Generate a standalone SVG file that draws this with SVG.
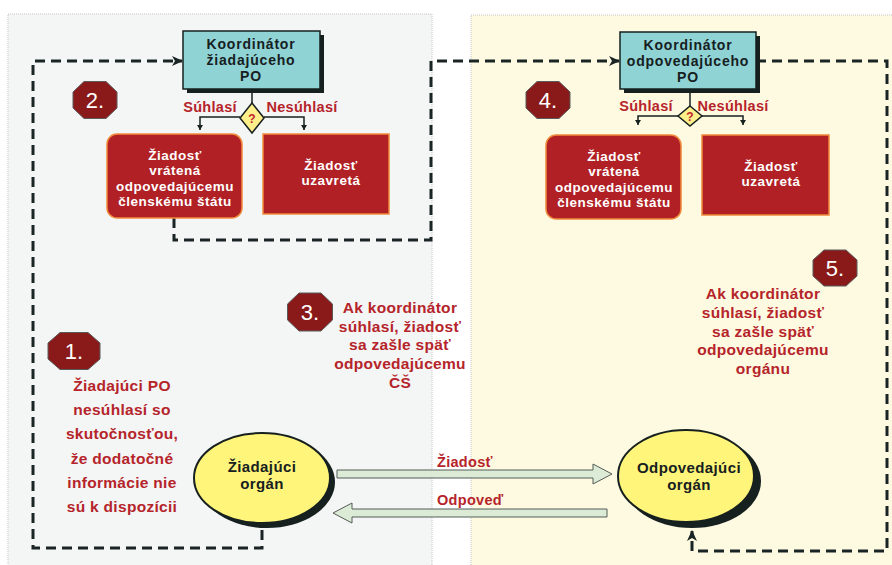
<svg xmlns="http://www.w3.org/2000/svg" width="892" height="565" viewBox="0 0 892 565">
  <defs>
    <style>
      text { font-family: "Liberation Sans", Arial, sans-serif; font-weight: 700; }
      .panel { stroke: #c4c4c4; stroke-width: 1; stroke-dasharray: 1 1; }
      .coord { fill: #8fd3d4; stroke: #16201f; stroke-width: 1.5; }
      .shadow { fill: #16201f; }
      .ctext { font-size: 14px; letter-spacing: 0.8px; fill: #16201f; text-anchor: middle; }
      .branch { fill: none; stroke: #16201f; stroke-width: 1.5; }
      .diamond { fill: #fdf08a; stroke: #16201f; stroke-width: 1.5; }
      .q { font-size: 12px; fill: #c0262b; text-anchor: middle; }
      .lbl { font-size: 14.5px; letter-spacing: 0.3px; fill: #b5242a; }
      .redbox { fill: #b02024; stroke: #f08a3a; stroke-width: 1.5; }
      .wtext { font-size: 13.5px; letter-spacing: 0.5px; fill: #ffffff; text-anchor: middle; }
      .note { font-size: 15.5px; letter-spacing: 0.3px; fill: #b5242a; text-anchor: middle; }
      .oct { fill: #8a1a1a; stroke: #5a5a5a; stroke-width: 1; }
      .num { font-weight: 400; font-size: 22px; fill: #ffffff; text-anchor: middle; }
      .organ { fill: #fff57a; stroke: #16201f; stroke-width: 2; }
      .otext { font-size: 15px; letter-spacing: 0.4px; fill: #16201f; text-anchor: middle; }
      .block { fill: #dcebd6; stroke: #555c58; stroke-width: 1; }
      .dash { fill: none; stroke: #1a2424; stroke-width: 3; stroke-dasharray: 10 6; }
    </style>
    <marker id="arrowDash" markerUnits="userSpaceOnUse" markerWidth="12" markerHeight="12" refX="10" refY="6" orient="auto">
      <path d="M0,1 L11,6 L0,11 L3,6 Z" fill="#1a2424"/>
    </marker>
    <marker id="arrowTiny" markerUnits="userSpaceOnUse" markerWidth="6" markerHeight="6" refX="5" refY="3" orient="auto">
      <path d="M0,0 L5,3 L0,6 Z" fill="#16201f"/>
    </marker>
  </defs>

  <!-- panels -->
  <rect class="panel" x="8" y="14" width="424" height="560" fill="#f4f5f5"/>
  <rect class="panel" x="471" y="15" width="430" height="560" fill="#fefae2"/>

  <!-- dashed connectors and block arrows -->
  <g id="connectors">
    <path class="dash" d="M262,530 V548 H33 V61 H182" marker-end="url(#arrowDash)"/>
    <path class="dash" d="M174,218 V240 H431 V61 H619" marker-end="url(#arrowDash)"/>
    <path class="dash" d="M756,61 H887 V551 H692 V531" marker-end="url(#arrowDash)"/>

    <path class="branch" d="M252,89 V103"/>
    <path class="branch" d="M240,117 H200 V130" marker-end="url(#arrowTiny)"/>
    <path class="branch" d="M264,117 H304 V130" marker-end="url(#arrowTiny)"/>

    <path class="branch" d="M690,89 V106"/>
    <path class="branch" d="M678,116 H638 V125" marker-end="url(#arrowTiny)"/>
    <path class="branch" d="M702,116 H743 V125" marker-end="url(#arrowTiny)"/>

    <polygon id="arrow-request" class="block" points="337,470 593,470 593,464 612,474 593,484 593,478 337,478"/>
    <polygon id="arrow-reply" class="block" points="607,509 352,509 352,503 333,513 352,523 352,517 607,517"/>
    <text class="lbl" x="437" y="467">Žiadosť</text>
    <text class="lbl" x="437" y="505">Odpoveď</text>
  </g>

  <!-- requesting side -->
  <g id="coord-requesting">
    <rect class="shadow" x="187" y="35" width="137" height="58"/>
    <rect class="coord" x="183" y="31" width="137" height="58"/>
    <text class="ctext" y="49"><tspan x="251">Koordinátor</tspan><tspan x="251" dy="16">žiadajúceho</tspan><tspan x="251" dy="16">PO</tspan></text>
  </g>
  <g id="decision-requesting">
    <polygon class="diamond" points="252,103 264,118 252,133 240,118"/>
    <text class="q" x="252" y="123">?</text>
    <text class="lbl" x="210" y="112" text-anchor="middle">Súhlasí</text>
    <text class="lbl" x="302" y="112" text-anchor="middle">Nesúhlasí</text>
  </g>
  <g id="returned-requesting">
    <rect class="redbox" x="107" y="134" width="135" height="84" rx="10"/>
    <text class="wtext" y="160"><tspan x="175">Žiadosť</tspan><tspan x="175" dy="15.3">vrátená</tspan><tspan x="175" dy="15.3">odpovedajúcemu</tspan><tspan x="175" dy="15.3">členskému štátu</tspan></text>
  </g>
  <g id="closed-requesting">
    <rect class="redbox" x="263" y="134" width="126" height="80"/>
    <text class="wtext" y="170"><tspan x="331">Žiadosť</tspan><tspan x="331" dy="15.3">uzavretá</tspan></text>
  </g>
  <g id="organ-requesting">
    <ellipse class="shadow" cx="267" cy="482" rx="68" ry="46"/>
    <ellipse class="organ" cx="262" cy="478" rx="68" ry="45"/>
    <text class="otext" y="472"><tspan x="262">Žiadajúci</tspan><tspan x="262" dy="17">orgán</tspan></text>
  </g>

  <!-- responding side -->
  <g id="coord-responding">
    <rect class="shadow" x="624" y="36" width="136" height="57"/>
    <rect class="coord" x="620" y="32" width="136" height="57"/>
    <text class="ctext" y="50"><tspan x="688">Koordinátor</tspan><tspan x="688" dy="16">odpovedajúceho</tspan><tspan x="688" dy="16">PO</tspan></text>
  </g>
  <g id="decision-responding">
    <polygon class="diamond" points="690,106 702,116 690,126 678,116"/>
    <text class="q" x="690" y="121">?</text>
    <text class="lbl" x="646" y="111" text-anchor="middle">Súhlasí</text>
    <text class="lbl" x="733" y="111" text-anchor="middle">Nesúhlasí</text>
  </g>
  <g id="returned-responding">
    <rect class="redbox" x="546" y="135" width="135" height="84" rx="10"/>
    <text class="wtext" y="161"><tspan x="614">Žiadosť</tspan><tspan x="614" dy="15.3">vrátená</tspan><tspan x="614" dy="15.3">odpovedajúcemu</tspan><tspan x="614" dy="15.3">členskému štátu</tspan></text>
  </g>
  <g id="closed-responding">
    <rect class="redbox" x="702" y="135" width="127" height="80"/>
    <text class="wtext" y="171"><tspan x="771">Žiadosť</tspan><tspan x="771" dy="15.3">uzavretá</tspan></text>
  </g>
  <g id="organ-responding">
    <ellipse class="shadow" cx="692" cy="481" rx="69" ry="47"/>
    <ellipse class="organ" cx="686" cy="476" rx="68" ry="46"/>
    <text class="otext" y="473"><tspan x="689">Odpovedajúci</tspan><tspan x="689" dy="17">orgán</tspan></text>
  </g>

  <!-- step badges -->
  <g id="step-1">
    <polygon class="oct" transform="translate(74,351)" points="-14,-18.5 14,-18.5 26,-8 26,8 14,18.5 -14,18.5 -26,8 -26,-8"/>
    <text class="num" x="74" y="359">1.</text>
  </g>
  <g id="step-2">
    <polygon class="oct" transform="translate(95,100)" points="-11,-18.5 11,-18.5 22,-8 22,8 11,18.5 -11,18.5 -22,8 -22,-8"/>
    <text class="num" x="95" y="108">2.</text>
  </g>
  <g id="step-3">
    <polygon class="oct" transform="translate(310,312)" points="-11,-19 11,-19 22.5,-8 22.5,8 11,19 -11,19 -22.5,8 -22.5,-8"/>
    <text class="num" x="310" y="320">3.</text>
  </g>
  <g id="step-4">
    <polygon class="oct" transform="translate(548,100)" points="-11,-18.5 11,-18.5 22,-8 22,8 11,18.5 -11,18.5 -22,8 -22,-8"/>
    <text class="num" x="548" y="108">4.</text>
  </g>
  <g id="step-5">
    <polygon class="oct" transform="translate(835,268)" points="-11,-18 11,-18 22,-8 22,8 11,18 -11,18 -22,8 -22,-8"/>
    <text class="num" x="835" y="276">5.</text>
  </g>

  <!-- notes -->
  <g id="note-1">
    <text class="note" y="391"><tspan x="122">Žiadajúci PO</tspan><tspan x="122" dy="24.2">nesúhlasí so</tspan><tspan x="122" dy="24.2">skutočnosťou,</tspan><tspan x="122" dy="24.2">že dodatočné</tspan><tspan x="122" dy="24.2">informácie nie</tspan><tspan x="122" dy="24.2">sú k dispozícii</tspan></text>
  </g>
  <g id="note-3">
    <text class="note" y="313"><tspan x="400">Ak koordinátor</tspan><tspan x="400" dy="18.7">súhlasí, žiadosť</tspan><tspan x="400" dy="18.7">sa zašle späť</tspan><tspan x="400" dy="18.7">odpovedajúcemu</tspan><tspan x="400" dy="18.7">ČŠ</tspan></text>
  </g>
  <g id="note-5">
    <text class="note" y="299"><tspan x="763">Ak koordinátor</tspan><tspan x="763" dy="18.75">súhlasí, žiadosť</tspan><tspan x="763" dy="18.75">sa zašle späť</tspan><tspan x="763" dy="18.75">odpovedajúcemu</tspan><tspan x="763" dy="18.75">orgánu</tspan></text>
  </g>
</svg>
